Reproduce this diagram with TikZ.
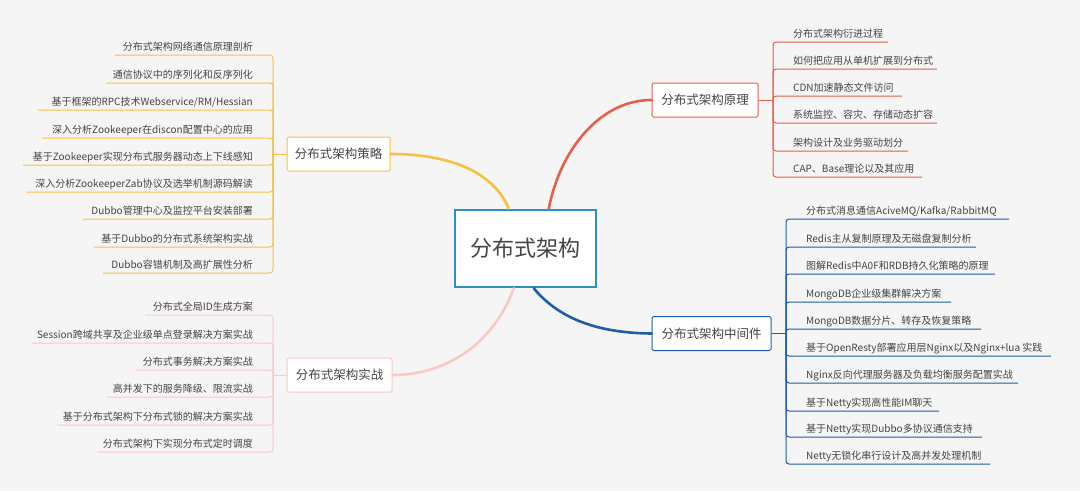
\documentclass[tikz,border=0pt]{standalone}
\usepackage{fontspec}
\setmainfont{Noto Sans CJK SC}
\usetikzlibrary{calc}
\usetikzlibrary{positioning}
\definecolor{celeste}{HTML}{2A8FC1}
\definecolor{gold}{HTML}{F6C143}
\definecolor{tomato}{HTML}{E45F4C}
\definecolor{navy}{HTML}{1E5EA6}
\definecolor{blush}{HTML}{F9C9C6}
\definecolor{ink}{HTML}{444444}
\tikzstyle{root}=[draw=celeste, line width=2.5pt, fill=white, text=ink, font={\fontsize{22}{24}\selectfont}, minimum width=141pt, minimum height=77pt, inner sep=0pt]
\tikzstyle{branch}=[draw, line width=1pt, fill=white, text=ink, rounded corners=1.5pt, font={\fontsize{12.5}{14}\selectfont}, minimum height=34pt, inner sep=5pt]
\tikzstyle{leaf}=[text=ink, font={\fontsize{10}{11}\selectfont}, inner sep=1pt]
\tikzstyle{trunk}=[line width=2.6pt, line cap=round]
\tikzstyle{twig}=[line width=1pt, rounded corners=3pt]

\begin{document}
\begin{tikzpicture}[x=1pt, y=-1pt]

    \fill[white!96!black] (0,0) rectangle (1080,491);

    \node[root] (arch) at (525.5,248.5) {分布式架构};
    \node[branch, draw=gold, minimum width=103pt] (strategy) at (338.5,154) {分布式架构策略};
    \node[branch, draw=blush, minimum width=105pt] (practice) at (339.5,375) {分布式架构实战};
    \node[branch, draw=tomato, minimum width=106pt] (theory) at (705,100) {分布式架构原理};
    \node[branch, draw=navy, minimum width=119pt] (middleware) at (711.5,333.5) {分布式架构中间件};

    % trunks
    \draw[trunk, gold] (strategy.east) .. controls (455,154) and (495,175) .. ($(arch.north west)+(55,0)$);
    \draw[trunk, tomato] ($(arch.north west)+(95,0)$) .. controls (560,150) and (600,100) .. (theory.west);
    \draw[trunk, navy] ($(arch.south west)+(80,0)$) .. controls (560,320) and (600,333) .. (middleware.west);
    \draw[trunk, blush] ($(arch.south west)+(60,0)$) .. controls (495,340) and (450,375) .. (practice.east);

    % strategy leaves
    \coordinate (sfork) at (273,154);
    \draw[twig, gold] (strategy.west) -- (sfork);
    \foreach \y/\x/\t [count=\i] in {55/115/{分布式架构网络通信原理剖析}, 83/106/{通信协议中的序列化和反序列化},
        110/38/{基于框架的RPC技术Webservice/RM/Hessian}, 138/42/{深入分析Zookeeper在discon配置中心的应用},
        165/23/{基于Zookeeper实现分布式服务器动态上下线感知}, 192/26/{深入分析ZookeeperZab协议及选举机制源码解读},
        219/83/{Dubbo管理中心及监控平台安装部署}, 247/94/{基于Dubbo的分布式系统架构实战}, 273/103/{Dubbo容错机制及高扩展性分析}} {
        \node[leaf, anchor=base east] (s\i) at (254,\y-5) {\t};
        \coordinate (se\i) at (\x,\y);
        \draw[twig, gold] (se\i) -- (273,\y) -- (sfork);
    }

    % practice leaves
    \coordinate (pfork) at (273,375);
    \draw[twig, blush] (practice.west) -- (pfork);
    \foreach \y/\x/\t [count=\i] in {315/145/{分布式全局ID生成方案}, 343/32/{Session跨域共享及企业级单点登录解决方案实战},
        370/136/{分布式事务解决方案实战}, 397/107/{高并发下的服务降级、限流实战},
        425/57/{基于分布式架构下分布式锁的解决方案实战}, 452/97/{分布式架构下实现分布式定时调度}} {
        \node[leaf, anchor=base east] (p\i) at (254,\y-5) {\t};
        \coordinate (pe\i) at (\x,\y);
        \draw[twig, blush] (pe\i) -- (273,\y) -- (pfork);
    }

    % theory leaves
    \coordinate (tfork) at (773,100);
    \draw[twig, tomato] (theory.east) -- (tfork);
    \foreach \y/\x/\t [count=\i] in {42/888/{分布式架构衍进过程}, 69/937/{如何把应用从单机扩展到分布式},
        96/902/{CDN加速静态文件访问}, 123/937/{系统监控、容灾、存储动态扩容},
        151/908/{架构设计及业务驱动划分}, 177/922/{CAP、Base理论以及其应用}} {
        \node[leaf, anchor=base west] (t\i) at (792,\y-5) {\t};
        \coordinate (te\i) at (\x,\y);
        \draw[twig, tomato] (te\i) -- (773,\y) -- (tfork);
    }

    % middleware leaves
    \coordinate (mfork) at (786,333.5);
    \draw[twig, navy] (middleware.east) -- (mfork);
    \foreach \y/\x/\t [count=\i] in {219/1009/{分布式消息通信AciveMQ/Kafka/RabbitMQ}, 247/976/{Redis主从复制原理及无磁盘复制分析},
        274/995/{图解Redis中A0F和RDB持久化策略的原理}, 302/951/{MongoDB企业级集群解决方案},
        329/981/{MongoDB数据分片、转存及恢复策略}, 356/1051/{基于OpenResty部署应用层Nginx以及Nginx+lua 实践},
        383/1018/{Nginx反向代理服务器及负载均衡服务配置实战}, 411/939/{基于Netty实现高性能IM聊天},
        437/982/{基于Netty实现Dubbo多协议通信支持}, 464/990/{Netty无锁化串行设计及高并发处理机制}} {
        \node[leaf, anchor=base west] (m\i) at (805,\y-5) {\t};
        \coordinate (me\i) at (\x,\y);
        \draw[twig, navy] (me\i) -- (786,\y) -- (mfork);
    }

\end{tikzpicture}
\end{document}
